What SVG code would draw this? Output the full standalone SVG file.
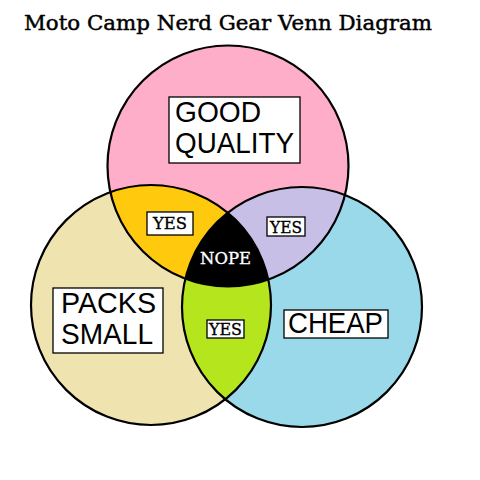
<svg xmlns="http://www.w3.org/2000/svg" width="480" height="480" viewBox="0 0 480 480">
<style>
.outline{fill:none;stroke:#000;stroke-width:2.2}
.box{fill:#fff;stroke:#000;stroke-width:1.3}
.big{font-family:"Liberation Sans",Arial,sans-serif;font-size:29px;fill:#000}
.small{font-family:"DejaVu Serif","Liberation Serif",serif;font-size:16.5px;fill:#000;stroke:#000;stroke-width:0.35}
.title{font-family:"DejaVu Serif","Liberation Serif",serif;font-size:20.5px;fill:#000;stroke:#000;stroke-width:0.45}
.white{fill:#fff;stroke:#fff}
</style>
<defs>
<circle id="cTop" cx="228" cy="166" r="120.5"/>
<circle id="cLeft" cx="151" cy="305" r="120"/>
<circle id="cRight" cx="302" cy="307" r="120"/>
<clipPath id="clipTop"><use href="#cTop"/></clipPath>
<clipPath id="clipRight"><use href="#cRight"/></clipPath>
</defs>
<rect width="480" height="480" fill="#fff"/>
<text class="title" x="24" y="30" textLength="408" lengthAdjust="spacingAndGlyphs">Moto Camp Nerd Gear Venn Diagram</text>
<g id="circle-good-quality"><use href="#cTop" fill="#FFAEC9"/></g>
<g id="circle-packs-small"><use href="#cLeft" fill="#EFE4B0"/></g>
<g id="circle-cheap"><use href="#cRight" fill="#99D9EA"/></g>
<g id="region-yellow" clip-path="url(#clipTop)"><use href="#cLeft" fill="#FFC90E"/></g>
<g id="region-lavender" clip-path="url(#clipTop)"><use href="#cRight" fill="#C8BFE7"/></g>
<g id="region-green" clip-path="url(#clipRight)"><use href="#cLeft" fill="#B5E61D"/></g>
<g id="region-nope" clip-path="url(#clipTop)"><g clip-path="url(#clipRight)"><use href="#cLeft" fill="#000"/></g></g>
<g id="outlines">
<use href="#cTop" class="outline"/>
<use href="#cLeft" class="outline"/>
<use href="#cRight" class="outline"/>
</g>
<g id="label-good-quality">
<rect class="box" x="169" y="97" width="131" height="66"/>
<text class="big" x="175" y="122" textLength="86" lengthAdjust="spacingAndGlyphs">GOOD</text>
<text class="big" x="175" y="153" textLength="119" lengthAdjust="spacingAndGlyphs">QUALITY</text>
</g>
<g id="label-packs-small">
<rect class="box" x="53" y="288" width="110" height="65"/>
<text class="big" x="61" y="313" textLength="95" lengthAdjust="spacingAndGlyphs">PACKS</text>
<text class="big" x="61" y="344" textLength="92" lengthAdjust="spacingAndGlyphs">SMALL</text>
</g>
<g id="label-cheap">
<rect class="box" x="284" y="310" width="104" height="28"/>
<text class="big" x="288" y="333" textLength="95" lengthAdjust="spacingAndGlyphs">CHEAP</text>
</g>
<g id="label-yes-yellow">
<rect class="box" x="147" y="212" width="46" height="23"/>
<text class="small" x="153" y="229" textLength="34" lengthAdjust="spacingAndGlyphs">YES</text>
</g>
<g id="label-yes-lavender">
<rect class="box" x="267" y="217" width="38" height="19"/>
<text class="small" x="270" y="233" font-size="15" textLength="32" lengthAdjust="spacingAndGlyphs">YES</text>
</g>
<g id="label-yes-green">
<rect class="box" x="207" y="320" width="37" height="18"/>
<text class="small" x="209" y="335" font-size="14.5" textLength="33" lengthAdjust="spacingAndGlyphs">YES</text>
</g>
<g id="label-nope">
<text class="small white" x="200" y="264" textLength="51" lengthAdjust="spacingAndGlyphs">NOPE</text>
</g>
</svg>
